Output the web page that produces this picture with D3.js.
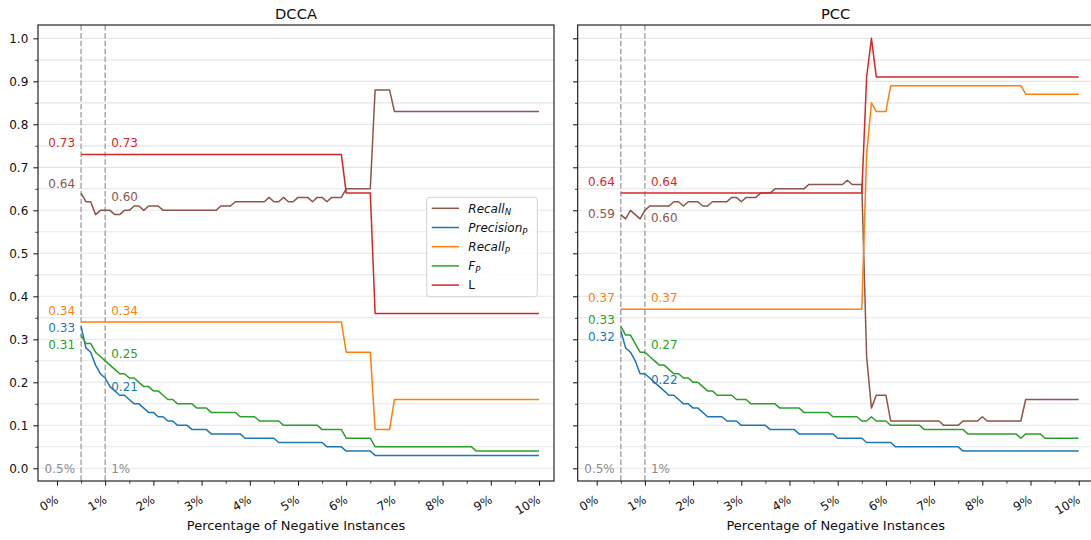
<!DOCTYPE html>
<html>
<head>
<meta charset="utf-8">
<script src="https://cdn.jsdelivr.net/npm/d3@7"></script>
<style>
  body { margin: 0; background: #fff; }
  svg { display: block; }
  text { font-family: "DejaVu Sans", sans-serif; }
</style>
</head>
<body>
<svg id="chart" width="1091" height="540"></svg>
<script>
// Percentage of negative instances (x positions of every sample)
const percent = [
  0.5, 0.6, 0.7, 0.8, 0.9, 1.0, 1.1, 1.2, 1.3, 1.4,
  1.5, 1.6, 1.7, 1.8, 1.9, 2.0, 2.1, 2.2, 2.3, 2.4,
  2.5, 2.6, 2.7, 2.8, 2.9, 3.0, 3.1, 3.2, 3.3, 3.4,
  3.5, 3.6, 3.7, 3.8, 3.9, 4.0, 4.1, 4.2, 4.3, 4.4,
  4.5, 4.6, 4.7, 4.8, 4.9, 5.0, 5.1, 5.2, 5.3, 5.4,
  5.5, 5.6, 5.7, 5.8, 5.9, 6.0, 6.1, 6.2, 6.3, 6.4,
  6.5, 6.6, 6.7, 6.8, 6.9, 7.0, 7.1, 7.2, 7.3, 7.4,
  7.5, 7.6, 7.7, 7.8, 7.9, 8.0, 8.1, 8.2, 8.3, 8.4,
  8.5, 8.6, 8.7, 8.8, 8.9, 9.0, 9.1, 9.2, 9.3, 9.4,
  9.5, 9.6, 9.7, 9.8, 9.9, 10.0
];

// ---- DCCA ----
const recallN_dcca = [
  0.64, 0.62, 0.62, 0.59, 0.60, 0.60, 0.60, 0.59, 0.59, 0.60,
  0.60, 0.61, 0.61, 0.60, 0.61, 0.61, 0.61, 0.60, 0.60, 0.60,
  0.60, 0.60, 0.60, 0.60, 0.60, 0.60, 0.60, 0.60, 0.60, 0.61,
  0.61, 0.61, 0.62, 0.62, 0.62, 0.62, 0.62, 0.62, 0.62, 0.63,
  0.62, 0.62, 0.63, 0.62, 0.62, 0.63, 0.63, 0.63, 0.62, 0.63,
  0.63, 0.62, 0.63, 0.63, 0.63, 0.65, 0.65, 0.65, 0.65, 0.65,
  0.65, 0.88, 0.88, 0.88, 0.88, 0.83, 0.83, 0.83, 0.83, 0.83,
  0.83, 0.83, 0.83, 0.83, 0.83, 0.83, 0.83, 0.83, 0.83, 0.83,
  0.83, 0.83, 0.83, 0.83, 0.83, 0.83, 0.83, 0.83, 0.83, 0.83,
  0.83, 0.83, 0.83, 0.83, 0.83, 0.83
];
const precisionP_dcca = [
  0.33, 0.28, 0.27, 0.24, 0.22, 0.21, 0.19, 0.18, 0.17, 0.17,
  0.16, 0.15, 0.15, 0.14, 0.13, 0.13, 0.12, 0.12, 0.11, 0.11,
  0.10, 0.10, 0.10, 0.09, 0.09, 0.09, 0.09, 0.08, 0.08, 0.08,
  0.08, 0.08, 0.08, 0.08, 0.07, 0.07, 0.07, 0.07, 0.07, 0.07,
  0.07, 0.06, 0.06, 0.06, 0.06, 0.06, 0.06, 0.06, 0.06, 0.06,
  0.06, 0.05, 0.05, 0.05, 0.05, 0.04, 0.04, 0.04, 0.04, 0.04,
  0.04, 0.03, 0.03, 0.03, 0.03, 0.03, 0.03, 0.03, 0.03, 0.03,
  0.03, 0.03, 0.03, 0.03, 0.03, 0.03, 0.03, 0.03, 0.03, 0.03,
  0.03, 0.03, 0.03, 0.03, 0.03, 0.03, 0.03, 0.03, 0.03, 0.03,
  0.03, 0.03, 0.03, 0.03, 0.03, 0.03
];
const recallP_dcca = [
  0.34, 0.34, 0.34, 0.34, 0.34, 0.34, 0.34, 0.34, 0.34, 0.34,
  0.34, 0.34, 0.34, 0.34, 0.34, 0.34, 0.34, 0.34, 0.34, 0.34,
  0.34, 0.34, 0.34, 0.34, 0.34, 0.34, 0.34, 0.34, 0.34, 0.34,
  0.34, 0.34, 0.34, 0.34, 0.34, 0.34, 0.34, 0.34, 0.34, 0.34,
  0.34, 0.34, 0.34, 0.34, 0.34, 0.34, 0.34, 0.34, 0.34, 0.34,
  0.34, 0.34, 0.34, 0.34, 0.34, 0.27, 0.27, 0.27, 0.27, 0.27,
  0.27, 0.09, 0.09, 0.09, 0.09, 0.16, 0.16, 0.16, 0.16, 0.16,
  0.16, 0.16, 0.16, 0.16, 0.16, 0.16, 0.16, 0.16, 0.16, 0.16,
  0.16, 0.16, 0.16, 0.16, 0.16, 0.16, 0.16, 0.16, 0.16, 0.16,
  0.16, 0.16, 0.16, 0.16, 0.16, 0.16
];
const fP_dcca = [
  0.31, 0.29, 0.29, 0.27, 0.26, 0.25, 0.24, 0.23, 0.22, 0.22,
  0.21, 0.21, 0.20, 0.19, 0.19, 0.18, 0.18, 0.17, 0.16, 0.16,
  0.15, 0.15, 0.15, 0.15, 0.14, 0.14, 0.14, 0.13, 0.13, 0.13,
  0.13, 0.13, 0.13, 0.12, 0.12, 0.12, 0.12, 0.11, 0.11, 0.11,
  0.11, 0.11, 0.10, 0.10, 0.10, 0.10, 0.10, 0.10, 0.10, 0.10,
  0.09, 0.09, 0.09, 0.09, 0.09, 0.07, 0.07, 0.07, 0.07, 0.07,
  0.07, 0.05, 0.05, 0.05, 0.05, 0.05, 0.05, 0.05, 0.05, 0.05,
  0.05, 0.05, 0.05, 0.05, 0.05, 0.05, 0.05, 0.05, 0.05, 0.05,
  0.05, 0.05, 0.04, 0.04, 0.04, 0.04, 0.04, 0.04, 0.04, 0.04,
  0.04, 0.04, 0.04, 0.04, 0.04, 0.04
];
const L_dcca = [
  0.73, 0.73, 0.73, 0.73, 0.73, 0.73, 0.73, 0.73, 0.73, 0.73,
  0.73, 0.73, 0.73, 0.73, 0.73, 0.73, 0.73, 0.73, 0.73, 0.73,
  0.73, 0.73, 0.73, 0.73, 0.73, 0.73, 0.73, 0.73, 0.73, 0.73,
  0.73, 0.73, 0.73, 0.73, 0.73, 0.73, 0.73, 0.73, 0.73, 0.73,
  0.73, 0.73, 0.73, 0.73, 0.73, 0.73, 0.73, 0.73, 0.73, 0.73,
  0.73, 0.73, 0.73, 0.73, 0.73, 0.64, 0.64, 0.64, 0.64, 0.64,
  0.64, 0.36, 0.36, 0.36, 0.36, 0.36, 0.36, 0.36, 0.36, 0.36,
  0.36, 0.36, 0.36, 0.36, 0.36, 0.36, 0.36, 0.36, 0.36, 0.36,
  0.36, 0.36, 0.36, 0.36, 0.36, 0.36, 0.36, 0.36, 0.36, 0.36,
  0.36, 0.36, 0.36, 0.36, 0.36, 0.36
];

// ---- PCC ----
const recallN_pcc = [
  0.59, 0.58, 0.60, 0.59, 0.58, 0.60, 0.61, 0.61, 0.61, 0.61,
  0.61, 0.62, 0.62, 0.61, 0.62, 0.62, 0.62, 0.61, 0.61, 0.62,
  0.62, 0.62, 0.62, 0.63, 0.63, 0.62, 0.63, 0.63, 0.63, 0.64,
  0.64, 0.64, 0.65, 0.65, 0.65, 0.65, 0.65, 0.65, 0.65, 0.66,
  0.66, 0.66, 0.66, 0.66, 0.66, 0.66, 0.66, 0.67, 0.66, 0.66,
  0.66, 0.26, 0.14, 0.17, 0.17, 0.17, 0.11, 0.11, 0.11, 0.11,
  0.11, 0.11, 0.11, 0.11, 0.11, 0.11, 0.11, 0.10, 0.10, 0.10,
  0.10, 0.11, 0.11, 0.11, 0.11, 0.12, 0.11, 0.11, 0.11, 0.11,
  0.11, 0.11, 0.11, 0.11, 0.16, 0.16, 0.16, 0.16, 0.16, 0.16,
  0.16, 0.16, 0.16, 0.16, 0.16, 0.16
];
const precisionP_pcc = [
  0.32, 0.28, 0.27, 0.25, 0.22, 0.22, 0.21, 0.20, 0.19, 0.18,
  0.17, 0.17, 0.16, 0.15, 0.15, 0.14, 0.14, 0.13, 0.12, 0.12,
  0.12, 0.12, 0.11, 0.11, 0.11, 0.10, 0.10, 0.10, 0.10, 0.10,
  0.10, 0.09, 0.09, 0.09, 0.09, 0.09, 0.09, 0.08, 0.08, 0.08,
  0.08, 0.08, 0.08, 0.08, 0.08, 0.07, 0.07, 0.07, 0.07, 0.07,
  0.07, 0.06, 0.06, 0.06, 0.06, 0.06, 0.06, 0.05, 0.05, 0.05,
  0.05, 0.05, 0.05, 0.05, 0.05, 0.05, 0.05, 0.05, 0.05, 0.05,
  0.05, 0.04, 0.04, 0.04, 0.04, 0.04, 0.04, 0.04, 0.04, 0.04,
  0.04, 0.04, 0.04, 0.04, 0.04, 0.04, 0.04, 0.04, 0.04, 0.04,
  0.04, 0.04, 0.04, 0.04, 0.04, 0.04
];
const recallP_pcc = [
  0.37, 0.37, 0.37, 0.37, 0.37, 0.37, 0.37, 0.37, 0.37, 0.37,
  0.37, 0.37, 0.37, 0.37, 0.37, 0.37, 0.37, 0.37, 0.37, 0.37,
  0.37, 0.37, 0.37, 0.37, 0.37, 0.37, 0.37, 0.37, 0.37, 0.37,
  0.37, 0.37, 0.37, 0.37, 0.37, 0.37, 0.37, 0.37, 0.37, 0.37,
  0.37, 0.37, 0.37, 0.37, 0.37, 0.37, 0.37, 0.37, 0.37, 0.37,
  0.37, 0.73, 0.85, 0.83, 0.83, 0.83, 0.89, 0.89, 0.89, 0.89,
  0.89, 0.89, 0.89, 0.89, 0.89, 0.89, 0.89, 0.89, 0.89, 0.89,
  0.89, 0.89, 0.89, 0.89, 0.89, 0.89, 0.89, 0.89, 0.89, 0.89,
  0.89, 0.89, 0.89, 0.89, 0.87, 0.87, 0.87, 0.87, 0.87, 0.87,
  0.87, 0.87, 0.87, 0.87, 0.87, 0.87
];
const fP_pcc = [
  0.33, 0.31, 0.31, 0.29, 0.27, 0.27, 0.26, 0.25, 0.24, 0.24,
  0.23, 0.22, 0.22, 0.21, 0.21, 0.20, 0.20, 0.19, 0.18, 0.18,
  0.17, 0.17, 0.17, 0.17, 0.16, 0.16, 0.16, 0.15, 0.15, 0.15,
  0.15, 0.15, 0.15, 0.14, 0.14, 0.14, 0.14, 0.14, 0.13, 0.13,
  0.13, 0.13, 0.13, 0.13, 0.12, 0.12, 0.12, 0.12, 0.12, 0.12,
  0.11, 0.11, 0.12, 0.11, 0.11, 0.11, 0.10, 0.10, 0.10, 0.10,
  0.10, 0.10, 0.10, 0.09, 0.09, 0.09, 0.09, 0.09, 0.09, 0.09,
  0.09, 0.09, 0.08, 0.08, 0.08, 0.08, 0.08, 0.08, 0.08, 0.08,
  0.08, 0.08, 0.08, 0.07, 0.08, 0.08, 0.08, 0.08, 0.07, 0.07,
  0.07, 0.07, 0.07, 0.07, 0.07, 0.07
];
const L_pcc = [
  0.64, 0.64, 0.64, 0.64, 0.64, 0.64, 0.64, 0.64, 0.64, 0.64,
  0.64, 0.64, 0.64, 0.64, 0.64, 0.64, 0.64, 0.64, 0.64, 0.64,
  0.64, 0.64, 0.64, 0.64, 0.64, 0.64, 0.64, 0.64, 0.64, 0.64,
  0.64, 0.64, 0.64, 0.64, 0.64, 0.64, 0.64, 0.64, 0.64, 0.64,
  0.64, 0.64, 0.64, 0.64, 0.64, 0.64, 0.64, 0.64, 0.64, 0.64,
  0.64, 0.91, 1.00, 0.91, 0.91, 0.91, 0.91, 0.91, 0.91, 0.91,
  0.91, 0.91, 0.91, 0.91, 0.91, 0.91, 0.91, 0.91, 0.91, 0.91,
  0.91, 0.91, 0.91, 0.91, 0.91, 0.91, 0.91, 0.91, 0.91, 0.91,
  0.91, 0.91, 0.91, 0.91, 0.91, 0.91, 0.91, 0.91, 0.91, 0.91,
  0.91, 0.91, 0.91, 0.91, 0.91, 0.91
];

// Axis ticks
const yTicks = [0.0, 0.1, 0.2, 0.3, 0.4, 0.5, 0.6, 0.7, 0.8, 0.9, 1.0];
const yMinorTicks = [0.05, 0.15, 0.25, 0.35, 0.45, 0.55, 0.65, 0.75, 0.85, 0.95];
const xTicks = [0, 1, 2, 3, 4, 5, 6, 7, 8, 9, 10];
const xMinorTicks = [0.5, 1.5, 2.5, 3.5, 4.5, 5.5, 6.5, 7.5, 8.5, 9.5];
const markers = [0.5, 1];   // dashed reference lines (percent)

const panelTitles = ["DCCA", "PCC"];
const seriesNames = [
  { name: "Recall", sub: "N" },
  { name: "Precision", sub: "P" },
  { name: "Recall", sub: "P" },
  { name: "F", sub: "P" },
  { name: "L", sub: null }
];
const seriesColors = ["#8c564b", "#1f77b4", "#ff7f0e", "#2ca02c", "#d62728"];

const panelData = [
  [recallN_dcca, precisionP_dcca, recallP_dcca, fP_dcca, L_dcca],
  [recallN_pcc, precisionP_pcc, recallP_pcc, fP_pcc, L_pcc]
];

// vertical nudges (px) of the value labels next to the dashed lines, per series
const labelNudge = [
  { left: [-10, 1.3, -11.4, 10, -11.7], right: [-13.6, 8.7, -11.4, -7.5, -11.7] },
  { left: [-1.3, 6, -12, -7, -11.4], right: [7, 6.3, -12, -7.5, -11.4] }
];

const svg = d3.select("#chart");
const W = 516, TOP = 25, BOTTOM = 481;
const panelLeft = [38, 577.7];
const y = d3.scaleLinear().domain([-0.0295, 1.031]).range([BOTTOM, TOP]);
const fmt2 = d3.format(".2f");

panelTitles.forEach((title, pi) => {
  const left = panelLeft[pi];
  const x = d3.scaleLinear().domain([-0.394, 10.311]).range([left, left + W]);
  const g = svg.append("g");

  // horizontal grid at every 0.05
  const gridVals = yTicks.concat(yMinorTicks);
  g.append("g").selectAll("line").data(gridVals).join("line")
    .attr("x1", left).attr("x2", left + W)
    .attr("y1", d => y(d)).attr("y2", d => y(d))
    .attr("stroke", "#e6e6e6").attr("stroke-width", 1.1);

  // dashed reference lines
  g.append("g").selectAll("line").data(markers).join("line")
    .attr("x1", d => x(d)).attr("x2", d => x(d))
    .attr("y1", TOP).attr("y2", BOTTOM)
    .attr("stroke", "#a9a9a9").attr("stroke-width", 1.5)
    .attr("stroke-dasharray", "5.5,2.4");

  g.append("text").attr("x", x(0.5) - 6).attr("y", y(0) + 4.4)
    .attr("text-anchor", "end").attr("font-size", 12).attr("fill", "#8c8c8c").text("0.5%");
  g.append("text").attr("x", x(1) + 6).attr("y", y(0) + 4.4)
    .attr("text-anchor", "start").attr("font-size", 12).attr("fill", "#8c8c8c").text("1%");

  // series lines
  const line = d3.line().x(d => x(d[0])).y(d => y(d[1]));
  panelData[pi].forEach((vals, si) => {
    g.append("path")
      .datum(percent.map((p, i) => [p, vals[i]]))
      .attr("d", line)
      .attr("fill", "none")
      .attr("stroke", seriesColors[si])
      .attr("stroke-width", 1.5)
      .attr("stroke-linejoin", "round");
  });

  // value labels at 0.5% (left of line) and 1% (right of line)
  panelData[pi].forEach((vals, si) => {
    const v0 = vals[percent.indexOf(0.5)];
    const v1 = vals[percent.indexOf(1.0)];
    g.append("text")
      .attr("x", x(0.5) - 6).attr("y", y(v0) + labelNudge[pi].left[si] + 4.4)
      .attr("text-anchor", "end").attr("font-size", 12)
      .attr("fill", seriesColors[si]).text(fmt2(v0));
    g.append("text")
      .attr("x", x(1) + 6).attr("y", y(v1) + labelNudge[pi].right[si] + 4.4)
      .attr("text-anchor", "start").attr("font-size", 12)
      .attr("fill", seriesColors[si]).text(fmt2(v1));
  });

  // y axis
  const yAxis = d3.axisLeft(y).tickValues(yTicks).tickSize(4.7).tickSizeOuter(0).tickPadding(5)
    .tickFormat(pi === 0 ? d3.format(".1f") : () => "");
  const ya = g.append("g").attr("transform", `translate(${left},0)`).call(yAxis);
  ya.select(".domain").remove();
  ya.selectAll("text").attr("font-size", 12).attr("fill", "#111").attr("font-family", "DejaVu Sans");
  ya.selectAll("line").attr("stroke", "#111").attr("stroke-width", 1);
  const yMinor = g.append("g").attr("transform", `translate(${left},0)`)
    .call(d3.axisLeft(y).tickValues(yMinorTicks).tickSize(2.7).tickSizeOuter(0).tickFormat(() => ""));
  yMinor.select(".domain").remove();
  yMinor.selectAll("line").attr("stroke", "#111").attr("stroke-width", 0.8);

  // x axis
  const xAxis = d3.axisBottom(x).tickValues(xTicks).tickSize(4.7).tickSizeOuter(0)
    .tickFormat(d => d + "%");
  const xa = g.append("g").attr("transform", `translate(0,${BOTTOM})`).call(xAxis);
  xa.select(".domain").remove();
  xa.selectAll("line").attr("stroke", "#111").attr("stroke-width", 1);
  xa.selectAll("text")
    .attr("font-size", 12).attr("fill", "#111").attr("font-family", "DejaVu Sans")
    .attr("text-anchor", "end")
    .attr("y", 0).attr("dy", "0.72em")
    .attr("transform", "translate(-2.5,13.5) rotate(-30)");
  const xMinor = g.append("g").attr("transform", `translate(0,${BOTTOM})`)
    .call(d3.axisBottom(x).tickValues(xMinorTicks).tickSize(2.7).tickSizeOuter(0).tickFormat(() => ""));
  xMinor.select(".domain").remove();
  xMinor.selectAll("line").attr("stroke", "#111").attr("stroke-width", 0.8);

  // frame
  g.append("rect").attr("x", left).attr("y", TOP).attr("width", W).attr("height", BOTTOM - TOP)
    .attr("fill", "none").attr("stroke", "#111").attr("stroke-width", 1.1);

  // title and x label
  g.append("text").attr("x", left + W / 2).attr("y", 18.5)
    .attr("text-anchor", "middle").attr("font-size", 14.7).attr("fill", "#111").text(title);
  g.append("text").attr("x", left + W / 2).attr("y", 529.5)
    .attr("text-anchor", "middle").attr("font-size", 13).attr("fill", "#111")
    .text("Percentage of Negative Instances");

  // legend (first panel only)
  if (pi === 0) {
    const lx = left + W - 127.3, ly = 197.3;
    const lg = g.append("g").attr("transform", `translate(${lx},${ly})`);
    lg.append("rect").attr("width", 110.6).attr("height", 99.4).attr("rx", 3)
      .attr("fill", "#fff").attr("fill-opacity", 0.85)
      .attr("stroke", "#d0d0d0").attr("stroke-width", 1);
    seriesNames.forEach((s, si) => {
      const ry = 11 + si * 19.2;
      lg.append("line").attr("x1", 5).attr("x2", 32.3).attr("y1", ry).attr("y2", ry)
        .attr("stroke", seriesColors[si]).attr("stroke-width", 1.5);
      const t = lg.append("text").attr("x", 41.6).attr("y", ry + 4.4)
        .attr("font-size", 12).attr("fill", "#111");
      if (s.sub) {
        t.append("tspan").attr("font-style", "italic").text(s.name);
        t.append("tspan").attr("font-style", "italic").attr("font-size", 8.5)
          .attr("dy", 2.8).text(s.sub);
      } else {
        t.text(s.name);
      }
    });
  }
});
</script>
</body>
</html>
